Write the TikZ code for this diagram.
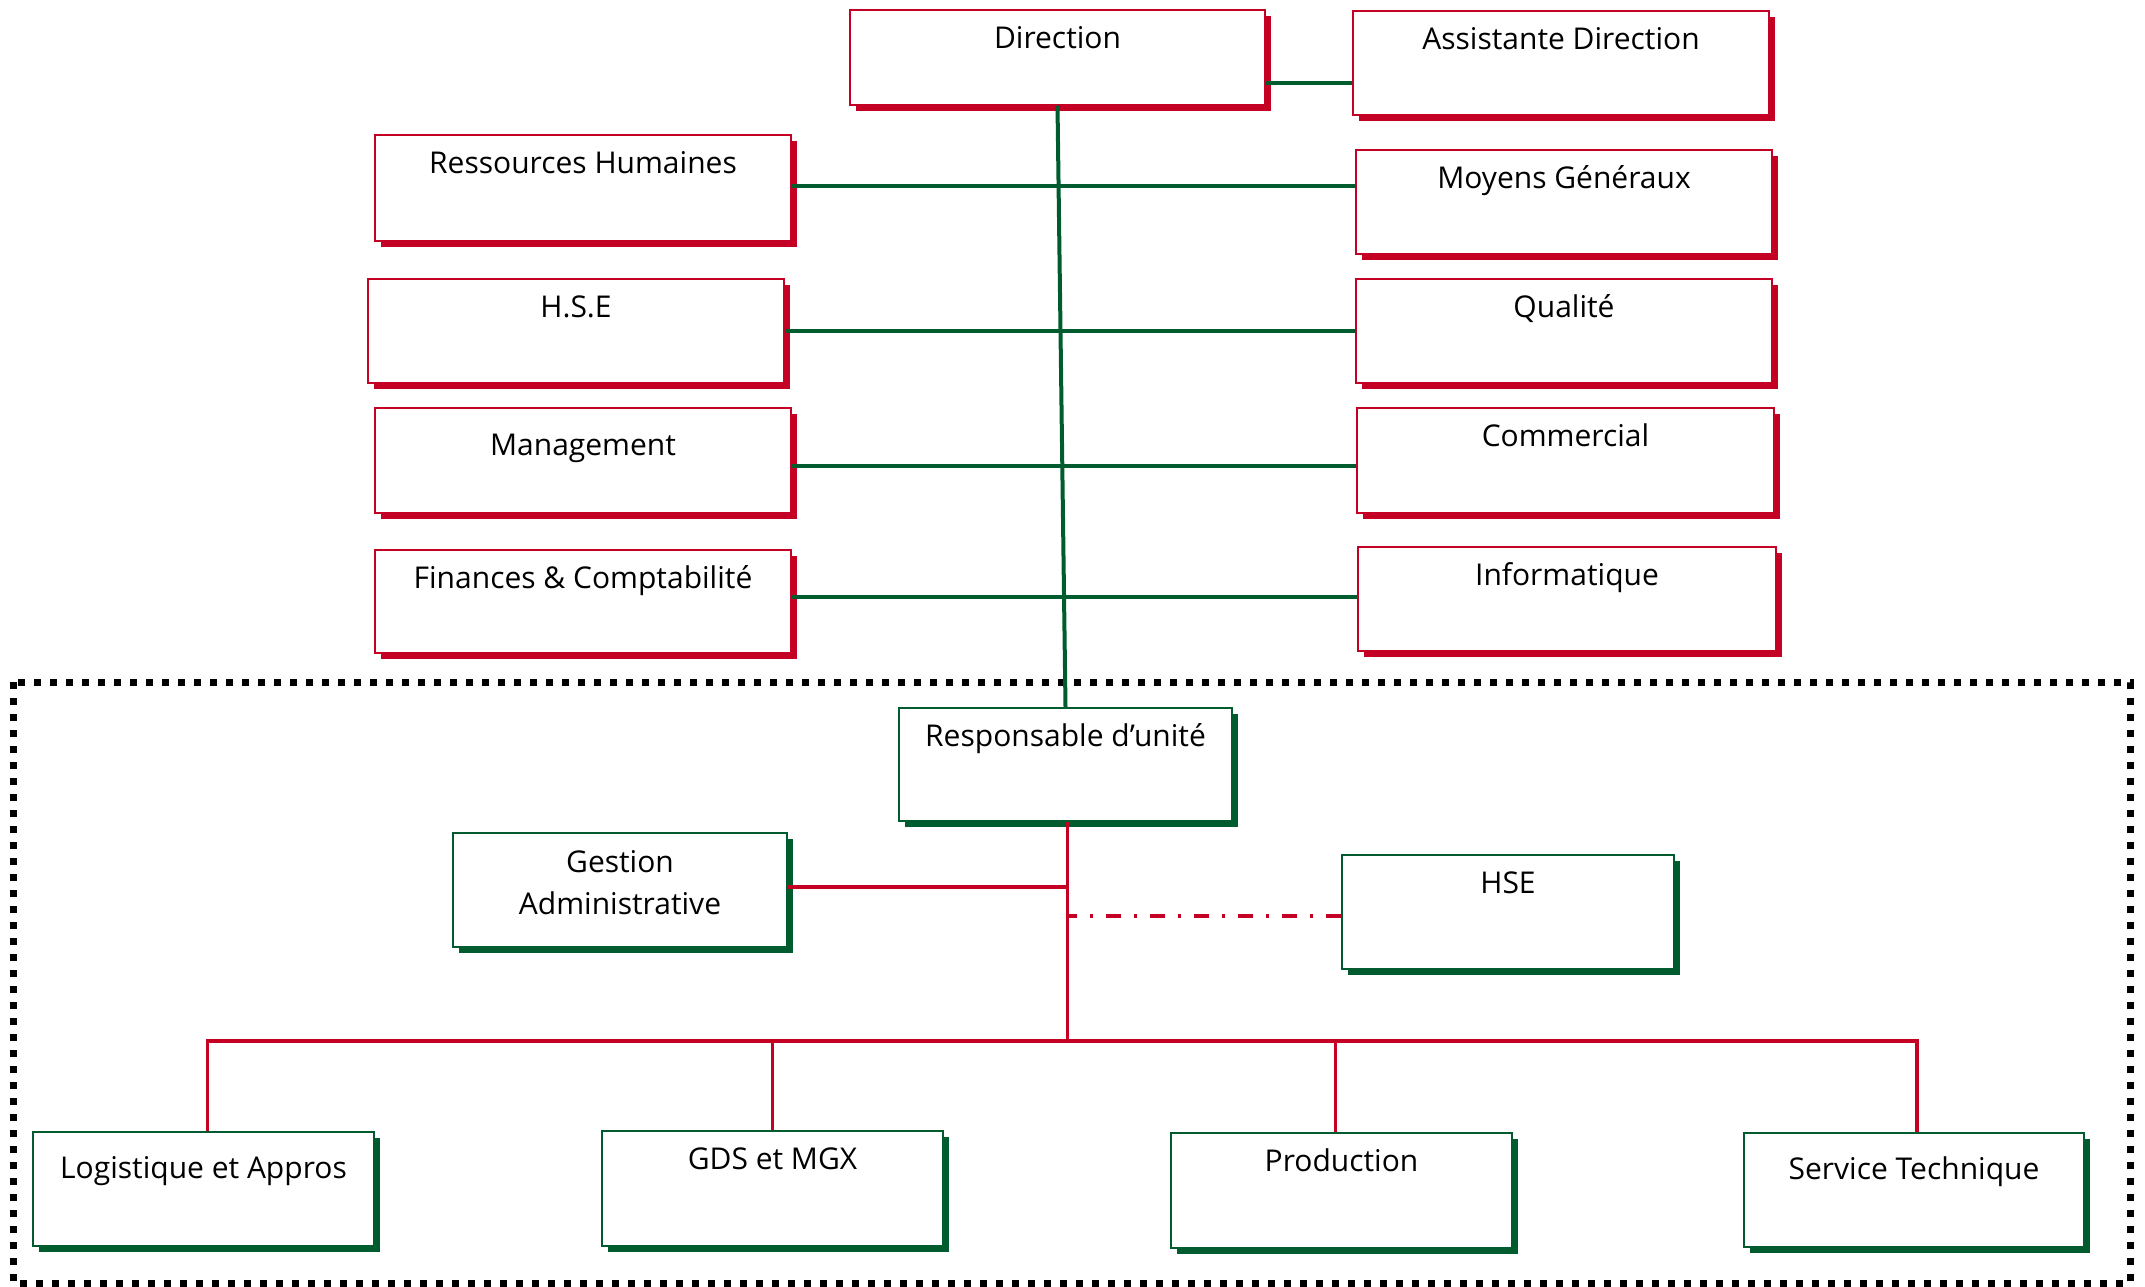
\documentclass[tikz,border=0pt]{standalone}
\usepackage{fontspec}
\setmainfont{Open Sans}
\usetikzlibrary{shadows,calc}
\definecolor{cred}{RGB}{196,0,36}
\definecolor{cgreen}{RGB}{0,92,46}
\begin{document}
\begin{tikzpicture}[x=0.5pt,y=-0.5pt,
  font=\fontsize{15pt}{21pt}\selectfont,
  base/.style={rectangle, fill=white, inner sep=0pt, text height=19pt, line width=0.6pt},
  rbox/.style={base, draw=cred, drop shadow={shadow xshift=3pt, shadow yshift=-3pt, fill=cred, opacity=1}},
  gbox/.style={base, draw=cgreen, drop shadow={shadow xshift=3pt, shadow yshift=-3pt, fill=cgreen, opacity=1}},
  gline/.style={draw=cgreen, line width=2pt},
  rline/.style={draw=cred, line width=1.8pt},
  frame/.style={draw=black, line width=3.5pt, dash pattern=on 3.5pt off 4.5pt}
]
\useasboundingbox (0,0) rectangle (2145,1286);

% dotted frame
\draw[frame] (13,682) rectangle (2130,1283);

% top boxes
\node[rbox, minimum width=207.5pt, text depth=28.5pt] (dir) at (1057.5,57.5) {Direction};
\node[rbox, minimum width=208pt, text depth=33pt] (asst) at (1561,63) {Assistante Direction};
\node[rbox, minimum width=208pt, text depth=34pt] (rh) at (583,188) {Ressources Humaines};
\node[rbox, minimum width=208pt, text depth=33pt] (mg) at (1564,202) {Moyens Généraux};
\node[rbox, minimum width=208pt, text depth=33pt] (hsea) at (576,331) {H.S.E};
\node[rbox, minimum width=208pt, text depth=33pt] (qual) at (1564,331) {Qualité};
\node[rbox, minimum width=208pt, text height=23.5pt, text depth=29pt] (mgmt) at (583,460.5) {Management};
\node[rbox, minimum width=208.5pt, text depth=33.5pt] (comm) at (1565.5,460.5) {Commercial};
\node[rbox, minimum width=208pt, text depth=32.5pt] (fin) at (583,601.5) {Finances \& Comptabilité};
\node[rbox, minimum width=209pt, text depth=33pt] (info) at (1567,599) {Informatique};

% unit boxes
\node[gbox, minimum width=166.5pt, text depth=37.5pt] (resp) at (1065.5,764.5) {Responsable d’unité};
\node[gbox, minimum width=167pt, align=center, text height=40.5pt, text depth=16.5pt] (gest) at (620,890) {Gestion\\Administrative};
\node[gbox, minimum width=166pt, text depth=38pt] (hseb) at (1508,912) {HSE};
\node[gbox, minimum width=170.5pt, text height=23pt, text depth=34pt] (log) at (203.5,1189) {Logistique et Appros};
\node[gbox, minimum width=170.5pt, text height=19pt, text depth=38.5pt] (gds) at (772.5,1188.5) {GDS et MGX};
\node[gbox, minimum width=170.5pt, text depth=38.5pt] (prod) at (1341.5,1190.5) {Production};
\node[gbox, minimum width=170pt, text height=23pt, text depth=34pt] (st) at (1914,1190) {Service Technique};

% green connectors
\draw[gline] ([yshift=-12.75pt]dir.east) -- ([yshift=-12.75pt]dir.east -| asst.west);
\draw[gline] (dir.south) -- (resp.north);
\draw[gline] ([yshift=1pt]rh.east) -- ([yshift=1pt]rh.east -| mg.west);
\draw[gline] (hsea.east) -- (hsea.east -| qual.west);
\draw[gline] ([yshift=-2.75pt]mgmt.east) -- ([yshift=-2.75pt]mgmt.east -| comm.west);
\draw[gline] ([yshift=2.5pt]fin.east) -- ([yshift=2.5pt]fin.east -| info.west);

% red connectors
\coordinate (bus) at (1067,1041);
\draw[rline] ([xshift=1pt]resp.south) -- ([xshift=1pt]resp.south |- bus);
\draw[rline] ([yshift=1.5pt]gest.east) -- ([yshift=1.5pt,xshift=1pt]gest.east -| resp.south);
\draw[rline, dash pattern=on 7.5pt off 6.5pt on 1.5pt off 6.5pt] ([yshift=-2pt]hseb.west) -- ([yshift=-2pt,xshift=1pt]hseb.west -| resp.south);
\draw[rline] ([xshift=2pt]log.north) |- ([xshift=1.5pt]st.north |- bus) -- ([xshift=1.5pt]st.north);
\draw[rline] (gds.north) -- (gds.north |- bus);
\draw[rline] ([xshift=-3pt]prod.north) -- ([xshift=-3pt]prod.north |- bus);
\end{tikzpicture}
\end{document}
